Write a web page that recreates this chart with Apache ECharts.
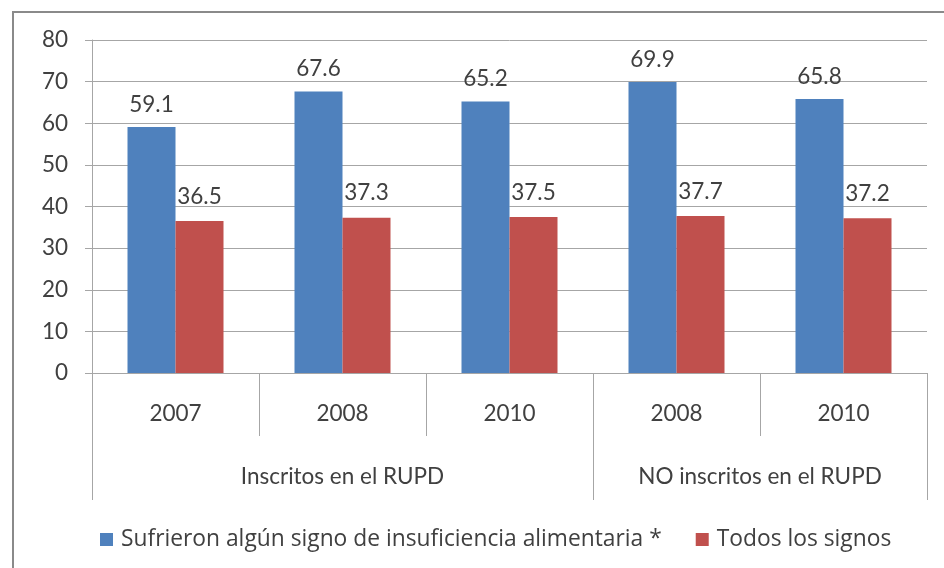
<!DOCTYPE html>
<html>
<head>
<meta charset="utf-8">
<script src="https://cdn.jsdelivr.net/npm/echarts@6/dist/echarts.min.js"></script>
<style>
html,body{margin:0;padding:0;background:#fff;}
#chart{width:944px;height:568px;}
</style>
</head>
<body>
<div id="chart"></div>
<script>
var years = ["2007", "2008", "2010", "2008", "2010"];
var groups = ["Inscritos en el RUPD", "NO inscritos en el RUPD"];
var groupSizes = [3, 2];
var seriesNames = ["Sufrieron algún signo de insuficiencia alimentaria *", "Todos los signos"];
var algunSigno = [59.1, 67.6, 65.2, 69.9, 65.8];
var todosSignos = [36.5, 37.3, 37.5, 37.7, 37.2];
var yTicks = [0, 10, 20, 30, 40, 50, 60, 70, 80];

// group boundaries and centers on a 0..N value scale
var bounds = [0], centers = [], acc = 0;
groupSizes.forEach(function (s) { centers.push(acc + s / 2); acc += s; bounds.push(acc); });

var FONT = 'Lato';
var TXT = '#404040';
var AX = '#a6a6a6';
var FS = 22.5;

var chart = echarts.init(document.getElementById('chart'));
chart.setOption({
  animation: false,
  textStyle: { fontFamily: FONT, color: TXT },
  graphic: [{
    type: 'rect',
    shape: { x: 13, y: 12, width: 1000, height: 1000 },
    style: { fill: 'none', stroke: '#8a8a8a', lineWidth: 2 },
    silent: true
  }],
  grid: { left: 92, right: 17, top: 40, bottom: 195 },
  legend: {
    left: 95, top: 523,
    icon: 'rect', itemWidth: 13, itemHeight: 13, itemGap: 34,
    textStyle: { fontFamily: 'Open Sans', fontSize: 22.8, color: TXT, padding: [0, 0, 0, 3] },
    data: seriesNames
  },
  xAxis: [{
    type: 'category',
    data: years,
    position: 'bottom',
    axisLine: { show: true, lineStyle: { color: AX, width: 1 } },
    axisTick: { show: true, length: 63, alignWithLabel: false, lineStyle: { color: AX } },
    axisLabel: { fontFamily: FONT, fontSize: FS, color: TXT, margin: 29 }
  }, {
    type: 'value',
    min: 0, max: years.length,
    position: 'bottom',
    axisLine: { show: false },
    splitLine: { show: false },
    axisTick: { show: true, length: 127, customValues: bounds, lineStyle: { color: AX } },
    axisLabel: {
      fontFamily: FONT, fontSize: FS, color: TXT, margin: 92,
      customValues: centers,
      formatter: function (v) { var i = centers.indexOf(v); return i >= 0 ? groups[i] : ''; }
    }
  }],
  yAxis: {
    type: 'value',
    min: yTicks[0], max: yTicks[yTicks.length - 1], interval: 10,
    axisLine: { show: true, lineStyle: { color: AX } },
    axisTick: { show: true, length: 7, lineStyle: { color: AX } },
    splitLine: { show: true, lineStyle: { color: AX } },
    axisLabel: { fontFamily: FONT, fontSize: FS, color: TXT, margin: 24 }
  },
  series: [{
    name: seriesNames[0],
    type: 'bar',
    xAxisIndex: 0,
    data: algunSigno,
    barWidth: 48,
    barGap: '0%',
    itemStyle: { color: '#4f81bd' },
    label: { show: true, position: 'top', distance: 11, fontFamily: FONT, fontSize: FS, color: TXT }
  }, {
    name: seriesNames[1],
    type: 'bar',
    xAxisIndex: 0,
    data: todosSignos,
    barWidth: 48,
    barGap: '0%',
    itemStyle: { color: '#c0504d' },
    label: { show: true, position: 'top', distance: 13, fontFamily: FONT, fontSize: FS, color: TXT }
  }]
});
</script>
</body>
</html>
